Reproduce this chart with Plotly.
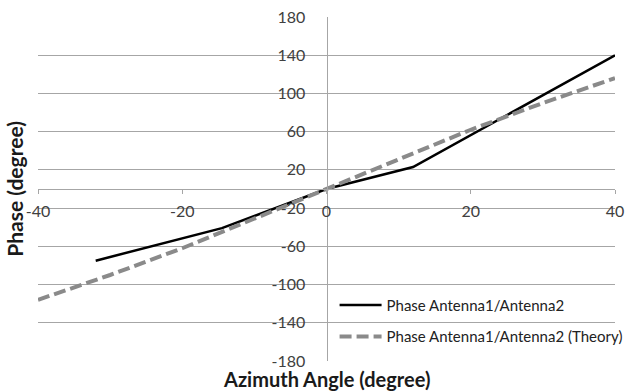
import plotly.graph_objects as go

# Data
meas_x = [-32, -14.5, 0, 12, 40]
meas_y = [-75, -41, 0, 23, 140]
theory_x = [-40, -30, -20, -10, 0, 10, 20, 30, 40]
theory_y = [-116, -90, -62, -31, 0, 31, 62, 90, 116]

x_ticks = [-40, -20, 0, 20, 40]
x_ticktext = ["-40", "-20", "0", "20", "40"]
y_ticks = [-180, -140, -100, -60, -20, 20, 60, 100, 140, 180]
y_ticktext = [str(v) for v in y_ticks]

FONT = "Lato, Open Sans, sans-serif"

fig = go.Figure()
fig.add_trace(go.Scatter(x=meas_x, y=meas_y, mode="lines",
                         name="Phase Antenna1/Antenna2", legendgroup="a",
                         line=dict(color="black", width=2.5)))
fig.add_trace(go.Scatter(x=theory_x, y=theory_y, mode="lines",
                         name="Phase Antenna1/Antenna2 (Theory)", legendgroup="b",
                         line=dict(color="#8a8a8a", width=4, dash="12px,5px")))

fig.update_layout(
    width=637, height=392,
    margin=dict(l=38, r=22, t=17, b=31, autoexpand=False),
    paper_bgcolor="white", plot_bgcolor="white",
    font=dict(family=FONT, color="#404040", size=16),
    showlegend=True,
    legend=dict(x=0.514, y=0.21, xanchor="left", yanchor="top",
                bgcolor="rgba(0,0,0,0)", font=dict(size=15, color="#222222"),
                tracegroupgap=9, itemwidth=42),
    xaxis=dict(range=[-40, 40], tickvals=x_ticks, ticktext=x_ticktext,
               anchor="free", position=0.5, showline=True, linecolor="#a6a6a6",
               linewidth=1, ticks="outside", ticklen=4, tickcolor="#a6a6a6",
               ticklabelstandoff=4, automargin=False,
               showgrid=False, zeroline=False, tickfont=dict(size=16)),
    yaxis=dict(range=[-180, 180], tickvals=y_ticks, ticktext=y_ticktext,
               anchor="free", position=0.5, showline=True, linecolor="#a6a6a6",
               linewidth=1, ticks="", showgrid=True, gridcolor="#a6a6a6",
               ticklabelstandoff=18, automargin=False,
               gridwidth=1, zeroline=False, tickfont=dict(size=16)),
    annotations=[
        dict(text="<b>Phase (degree)</b>", x=-0.042, y=0.5, xref="paper", yref="paper",
             textangle=-90, showarrow=False, font=dict(size=21, color="#1a1a1a", family=FONT),
             xanchor="center", yanchor="middle"),
        dict(text="<b>Azimuth Angle (degree)</b>", x=0.5, y=-0.053, xref="paper", yref="paper",
             showarrow=False, font=dict(size=20, color="#1a1a1a", family=FONT),
             xanchor="center", yanchor="middle"),
    ],
)

fig.write_html("out.html")
